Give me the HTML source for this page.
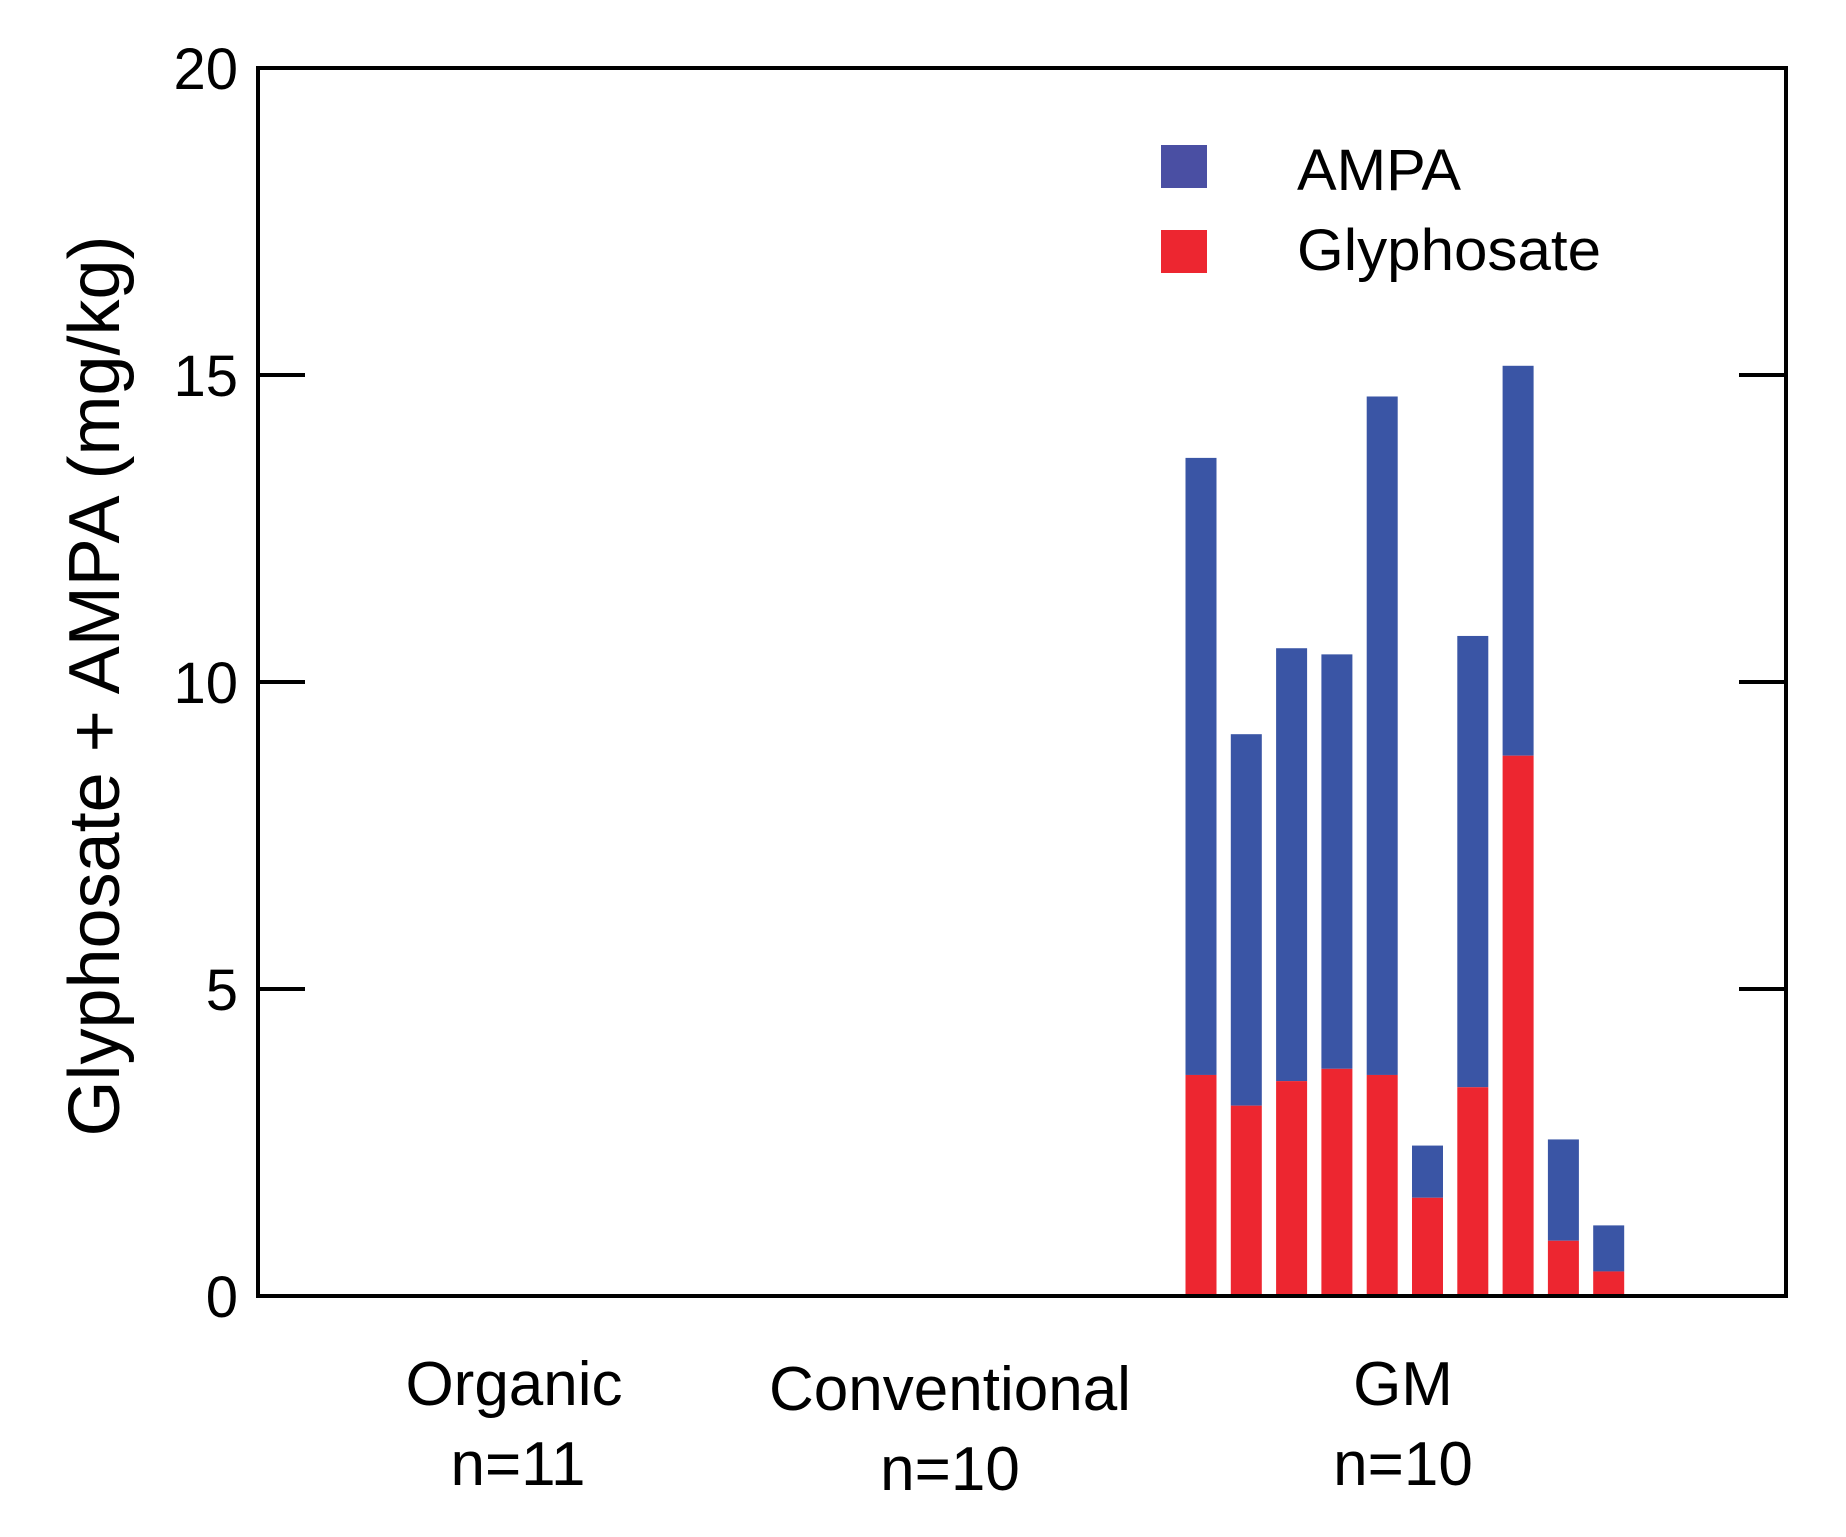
<!DOCTYPE html>
<html><head><meta charset="utf-8"><style>
html,body{margin:0;padding:0;background:#fff;}
svg{display:block;font-family:"Liberation Sans",Arial,sans-serif;}
</style></head><body>
<svg id="chart" width="1846" height="1537" viewBox="0 0 1846 1537">
<g id="bars"></g>
<g id="axes"></g>
<text x="100" y="686" font-size="72" text-anchor="middle" dominant-baseline="middle" transform="rotate(-90 100 686)">Glyphosate + AMPA (mg/kg)</text>
<g>
<rect x="1161" y="145" width="46" height="43" fill="#4a4fa3"/>
<text x="1297" y="190" font-size="58" textLength="164" lengthAdjust="spacingAndGlyphs">AMPA</text>
<rect x="1161" y="230" width="46" height="43" fill="#ed2630"/>
<text x="1297" y="270" font-size="58" textLength="304" lengthAdjust="spacingAndGlyphs">Glyphosate</text>
</g>
<g font-size="62" text-anchor="middle">
<text x="514" y="1405">Organic</text>
<text x="518" y="1485">n=11</text>
<text x="950" y="1410">Conventional</text>
<text x="950" y="1490">n=10</text>
<text x="1403" y="1405">GM</text>
<text x="1403" y="1485">n=10</text>
</g>
</svg>
<script>
const totals = [13.65, 9.15, 10.55, 10.45, 14.65, 2.45, 10.75, 15.15, 2.55, 1.15];
const glyphosate = [3.6, 3.1, 3.5, 3.7, 3.6, 1.6, 3.4, 8.8, 0.9, 0.4];
const yTicks = [0, 5, 10, 15, 20];
const NS = "http://www.w3.org/2000/svg";
const L = 258, R = 1786, T = 68, B = 1296, yMax = 20;
function y(v){ return B - (B - T) * v / yMax; }
function xc(i){ return 1201 + i * 45.3; }
const bw = 31;
const bars = document.getElementById('bars');
function mk(tag, attrs, parent){ const e = document.createElementNS(NS, tag); for (const k in attrs) e.setAttribute(k, attrs[k]); parent.appendChild(e); return e; }
totals.forEach((t, i) => {
  const g = glyphosate[i];
  const a = mk('rect', {x: xc(i) - bw/2, y: y(t), width: bw, height: y(g) - y(t), fill: '#3a55a5'}, bars);
  
  
  const r = mk('rect', {x: xc(i) - bw/2, y: y(g), width: bw, height: y(0) - y(g), fill: '#ed2630'}, bars);
  
  
});
const axes = document.getElementById('axes');
const frame = mk('rect', {x: L, y: T, width: R - L, height: B - T, fill: 'none', stroke: '#000', 'stroke-width': 4}, axes);


yTicks.forEach(v => {
  const t1 = mk('line', {x1: L, x2: L + 47, y1: y(v), y2: y(v), stroke: '#000', 'stroke-width': 4}, axes);
  
  
  const t2 = mk('line', {x1: R - 47, x2: R, y1: y(v), y2: y(v), stroke: '#000', 'stroke-width': 4}, axes);
  
  
  const lb = mk('text', {x: 238, y: y(v) + 21, 'font-size': 58, 'text-anchor': 'end'}, axes);
  lb.textContent = v;
  
  
});
</script>
</body></html>
